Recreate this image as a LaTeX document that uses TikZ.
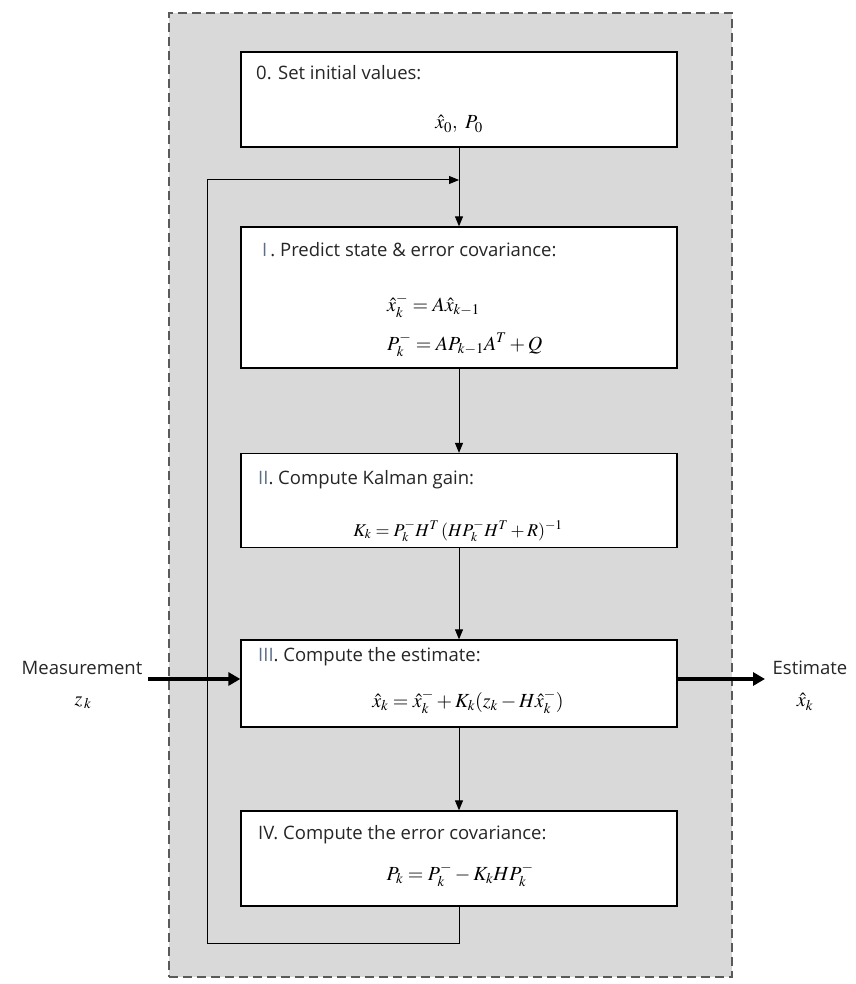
\documentclass[tikz,border=0pt]{standalone}
\usepackage{mathptmx}
\usepackage[no-math]{fontspec}
\setmainfont{Open Sans}
\usetikzlibrary{arrows.meta}
\definecolor{bggray}{HTML}{D9D9D9}
\definecolor{dashgray}{HTML}{5A5A5A}
\definecolor{numgray}{HTML}{5B6F86}
\definecolor{txtgray}{HTML}{262626}
\begin{document}
\begin{tikzpicture}[x=1pt,y=-1pt,
  stepbox/.style={draw=black, line width=1.3pt, fill=white, minimum width=436pt, inner sep=0pt},
  title/.style={anchor=base west, font=\fontsize{18.5}{22}\selectfont, text=txtgray, inner sep=0pt},
  formula/.style={anchor=base, font=\fontsize{20}{24}\selectfont, inner sep=0pt},
  flow/.style={line width=1pt, -{Triangle[length=10pt,width=8pt]}},
  io/.style={line width=3.5pt, -{Triangle[length=12pt,width=13pt]}},
  lbl/.style={font=\fontsize{18.5}{22}\selectfont, text=txtgray, inner sep=0pt}]
\useasboundingbox (0,0) rectangle (855,984);
\node[draw=dashgray, fill=bggray, dash pattern=on 9pt off 5pt, line width=1.8pt, minimum width=563pt, minimum height=964pt, inner sep=0pt] (frame) at (450.5,495) {};
% boxes
\node[stepbox, minimum height=95pt] (b0) at (459,99.5) {};
\node[stepbox, minimum height=141pt] (b1) at (459,297.5) {};
\node[stepbox, minimum height=94pt] (b2) at (459,500.5) {};
\node[stepbox, minimum height=87pt] (b3) at (459,683.5) {};
\node[stepbox, minimum height=95pt] (b4) at (459,858.5) {};
% titles
\node[title] (t0) at (256,80) {0. Set initial values:};
\node[title] (t1) at (262,256) {\textcolor{numgray}{I}\,. Predict state \& error covariance:};
\node[title] (t2) at (258,484) {\textcolor{numgray}{II}. Compute Kalman gain:};
\node[title] (t3) at (258,661) {\textcolor{numgray}{III}. Compute the estimate:};
\node[title] (t4) at (258,839) {IV. Compute the error covariance:};
% formulas
\node[formula] (f0) at (459,129) {$\hat{x}_0,\ P_0$};
\node[formula, anchor=base west] (f1a) at (387,311) {$\hat{x}_k^- = A\hat{x}_{k-1}$};
\node[formula, anchor=base west] (f1b) at (387,350) {$P_k^- = AP_{k-1}A^T + Q$};
\node[formula, font=\fontsize{18}{22}\selectfont] (f2) at (458,536) {$K_k = P_k^- H^T\,(HP_k^- H^T + R)^{-1}$};
\node[formula] (f3) at (468,707) {$\hat{x}_k = \hat{x}_k^- + K_k(z_k - H\hat{x}_k^-)$};
\node[formula] (f4) at (460,880) {$P_k = P_k^- - K_k H P_k^-$};
% outside labels
\node[lbl] (meas) at (82,668) {Measurement};
\node[formula, anchor=center] (zk) at (83,703) {$z_{\,k}$};
\node[lbl] (est) at (810,668) {Estimate};
\node[formula, anchor=center] (xk) at (805,702) {$\hat{x}_k$};
% connectors
\coordinate (j) at (459,180);
\coordinate (ll) at (207,943);
\coordinate (lt) at (207,180);
\draw[flow] (b0.south) -- (b1.north);
\draw[flow] (b4.south) |- (ll) -- (lt) -- (j);
\draw[flow] (b1.south) -- (b2.north);
\draw[flow] (b2.south) -- (b3.north);
\draw[flow] (b3.south) -- (b4.north);
\coordinate (min) at (148,679);
\coordinate (eout) at (765,679);
\draw[io] (min) -- (min -| b3.west);
\draw[io] (eout -| b3.east) -- (eout);
\end{tikzpicture}
\end{document}
